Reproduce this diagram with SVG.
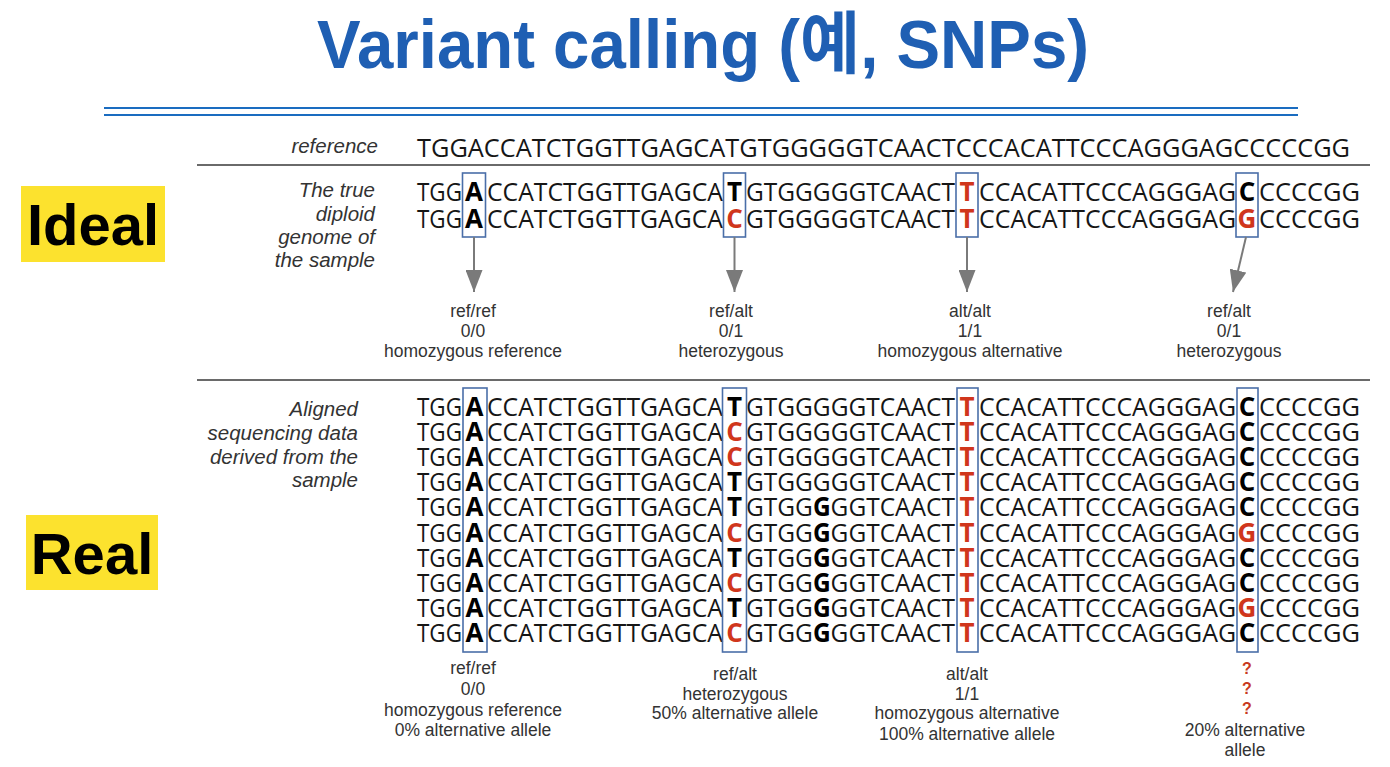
<svg xmlns="http://www.w3.org/2000/svg" width="1390" height="767" viewBox="0 0 1390 767">
<defs>
<style>
.title{font-family:"Liberation Sans","Noto Sans CJK KR",sans-serif;font-size:68px;font-weight:bold;fill:#1F5FB3}
.tag{font-family:"Liberation Sans",sans-serif;font-size:58px;font-weight:bold;fill:#000;text-anchor:middle}
.lab{font-family:"Liberation Sans",sans-serif;font-size:20.5px;font-style:italic;fill:#333;text-anchor:end}
.seq{font-family:"Open Sans",sans-serif;font-size:26px;fill:#161616}
.s{font-weight:bold;fill:#000;text-anchor:middle}
.red{fill:#D0361C}
.b{font-weight:bold;fill:#000}
.cap{font-family:"Liberation Sans",sans-serif;font-size:17.5px;fill:#333;text-anchor:middle}
.q{font-family:"Liberation Sans",sans-serif;font-size:16px;font-weight:bold;fill:#C8391D;text-anchor:middle}
.box{fill:none;stroke:#4A6EA8;stroke-width:1.6}
.sep{stroke:#6a6a6a;stroke-width:2}
.arr{stroke:#7a7a7a;stroke-width:2;fill:none}
</style>
<marker id="ah" viewBox="0 0 22 17" refX="22" refY="8.5" markerWidth="22" markerHeight="17" markerUnits="userSpaceOnUse" orient="auto">
<path d="M0,0 L22,8.5 L0,17 z" fill="#7a7a7a"/>
</marker>
</defs>
<rect width="1390" height="767" fill="#fff"/>

<g id="title">
<text class="title" x="317" y="68" textLength="772" lengthAdjust="spacingAndGlyphs">Variant calling (예, SNPs)</text>
<line x1="104" y1="108" x2="1298" y2="108" stroke="#1A6CC0" stroke-width="2"/>
<line x1="104" y1="115" x2="1298" y2="115" stroke="#1A6CC0" stroke-width="2"/>
</g>

<g id="ideal-tag">
<rect x="21" y="186" width="144" height="76" fill="#FCE22E"/>
<text class="tag" x="93" y="245">Ideal</text>
</g>
<g id="real-tag">
<rect x="26" y="515" width="132" height="75" fill="#FCE22E"/>
<text class="tag" x="92" y="574">Real</text>
</g>

<g id="reference">
<text class="lab" x="378" y="153">reference</text>
<text class="seq" x="417" y="157" textLength="933" lengthAdjust="spacingAndGlyphs">TGGACCATCTGGTTGAGCATGTGGGGGTCAACTCCCACATTCCCAGGGAGCCCCCGG</text>
<line class="sep" x1="197" y1="165" x2="1370" y2="165"/>
</g>

<g id="ideal-label">
<text class="lab" x="375" y="197">The true</text>
<text class="lab" x="375" y="221">diploid</text>
<text class="lab" x="375" y="244">genome of</text>
<text class="lab" x="375" y="267">the sample</text>
</g>

<g id="ideal-rows">
<text class="seq" y="201"><tspan x="417" textLength="45" lengthAdjust="spacingAndGlyphs">TGG</tspan><tspan class="s" x="474">A</tspan><tspan x="487" textLength="236" lengthAdjust="spacingAndGlyphs">CCATCTGGTTGAGCA</tspan><tspan class="s" x="734.5">T</tspan><tspan x="746" textLength="209" lengthAdjust="spacingAndGlyphs">GTGGGGGTCAACT</tspan><tspan class="s red" x="967">T</tspan><tspan x="979" textLength="257" lengthAdjust="spacingAndGlyphs">CCACATTCCCAGGGAG</tspan><tspan class="s" x="1247">C</tspan><tspan x="1259" textLength="101" lengthAdjust="spacingAndGlyphs">CCCCGG</tspan></text>
<text class="seq" y="227.5"><tspan x="417" textLength="45" lengthAdjust="spacingAndGlyphs">TGG</tspan><tspan class="s" x="474">A</tspan><tspan x="487" textLength="236" lengthAdjust="spacingAndGlyphs">CCATCTGGTTGAGCA</tspan><tspan class="s red" x="734.5">C</tspan><tspan x="746" textLength="209" lengthAdjust="spacingAndGlyphs">GTGGGGGTCAACT</tspan><tspan class="s red" x="967">T</tspan><tspan x="979" textLength="257" lengthAdjust="spacingAndGlyphs">CCACATTCCCAGGGAG</tspan><tspan class="s red" x="1247">G</tspan><tspan x="1259" textLength="101" lengthAdjust="spacingAndGlyphs">CCCCGG</tspan></text>
</g>

<g id="ideal-boxes">
<rect class="box" x="462.5" y="173" width="23" height="64"/>
<rect class="box" x="723.5" y="173" width="22" height="64"/>
<rect class="box" x="956" y="173" width="22" height="64"/>
<rect class="box" x="1236" y="173" width="22" height="64"/>
</g>

<g id="connectors">
<line class="arr" x1="474" y1="237" x2="474" y2="292" marker-end="url(#ah)"/>
<line class="arr" x1="734.5" y1="237" x2="734.5" y2="292" marker-end="url(#ah)"/>
<line class="arr" x1="967" y1="237" x2="967" y2="292" marker-end="url(#ah)"/>
<line class="arr" x1="1246" y1="237" x2="1233" y2="292" marker-end="url(#ah)"/>
</g>

<g id="ideal-captions">
<g><text class="cap" x="473" y="317">ref/ref</text><text class="cap" x="473" y="337">0/0</text><text class="cap" x="473" y="357">homozygous reference</text></g>
<g><text class="cap" x="731" y="317">ref/alt</text><text class="cap" x="731" y="337">0/1</text><text class="cap" x="731" y="357">heterozygous</text></g>
<g><text class="cap" x="970" y="317">alt/alt</text><text class="cap" x="970" y="337">1/1</text><text class="cap" x="970" y="357">homozygous alternative</text></g>
<g><text class="cap" x="1229" y="317">ref/alt</text><text class="cap" x="1229" y="337">0/1</text><text class="cap" x="1229" y="357">heterozygous</text></g>
</g>

<line class="sep" x1="197" y1="380" x2="1370" y2="380"/>

<g id="real-label">
<text class="lab" x="358" y="416">Aligned</text>
<text class="lab" x="358" y="440">sequencing data</text>
<text class="lab" x="358" y="464">derived from the</text>
<text class="lab" x="358" y="487">sample</text>
</g>

<g id="real-rows">
<text class="seq" y="416"><tspan x="417" textLength="45" lengthAdjust="spacingAndGlyphs">TGG</tspan><tspan class="s" x="474.5">A</tspan><tspan x="487" textLength="236" lengthAdjust="spacingAndGlyphs">CCATCTGGTTGAGCA</tspan><tspan class="s" x="734.5">T</tspan><tspan x="746" textLength="209" lengthAdjust="spacingAndGlyphs">GTGGGGGTCAACT</tspan><tspan class="s red" x="967">T</tspan><tspan x="979" textLength="257" lengthAdjust="spacingAndGlyphs">CCACATTCCCAGGGAG</tspan><tspan class="s" x="1247">C</tspan><tspan x="1259" textLength="101" lengthAdjust="spacingAndGlyphs">CCCCGG</tspan></text>
<text class="seq" y="441.1"><tspan x="417" textLength="45" lengthAdjust="spacingAndGlyphs">TGG</tspan><tspan class="s" x="474.5">A</tspan><tspan x="487" textLength="236" lengthAdjust="spacingAndGlyphs">CCATCTGGTTGAGCA</tspan><tspan class="s red" x="734.5">C</tspan><tspan x="746" textLength="209" lengthAdjust="spacingAndGlyphs">GTGGGGGTCAACT</tspan><tspan class="s red" x="967">T</tspan><tspan x="979" textLength="257" lengthAdjust="spacingAndGlyphs">CCACATTCCCAGGGAG</tspan><tspan class="s" x="1247">C</tspan><tspan x="1259" textLength="101" lengthAdjust="spacingAndGlyphs">CCCCGG</tspan></text>
<text class="seq" y="466.2"><tspan x="417" textLength="45" lengthAdjust="spacingAndGlyphs">TGG</tspan><tspan class="s" x="474.5">A</tspan><tspan x="487" textLength="236" lengthAdjust="spacingAndGlyphs">CCATCTGGTTGAGCA</tspan><tspan class="s red" x="734.5">C</tspan><tspan x="746" textLength="209" lengthAdjust="spacingAndGlyphs">GTGGGGGTCAACT</tspan><tspan class="s red" x="967">T</tspan><tspan x="979" textLength="257" lengthAdjust="spacingAndGlyphs">CCACATTCCCAGGGAG</tspan><tspan class="s" x="1247">C</tspan><tspan x="1259" textLength="101" lengthAdjust="spacingAndGlyphs">CCCCGG</tspan></text>
<text class="seq" y="491.3"><tspan x="417" textLength="45" lengthAdjust="spacingAndGlyphs">TGG</tspan><tspan class="s" x="474.5">A</tspan><tspan x="487" textLength="236" lengthAdjust="spacingAndGlyphs">CCATCTGGTTGAGCA</tspan><tspan class="s" x="734.5">T</tspan><tspan x="746" textLength="209" lengthAdjust="spacingAndGlyphs">GTGGGGGTCAACT</tspan><tspan class="s red" x="967">T</tspan><tspan x="979" textLength="257" lengthAdjust="spacingAndGlyphs">CCACATTCCCAGGGAG</tspan><tspan class="s" x="1247">C</tspan><tspan x="1259" textLength="101" lengthAdjust="spacingAndGlyphs">CCCCGG</tspan></text>
<text class="seq" y="516.4"><tspan x="417" textLength="45" lengthAdjust="spacingAndGlyphs">TGG</tspan><tspan class="s" x="474.5">A</tspan><tspan x="487" textLength="236" lengthAdjust="spacingAndGlyphs">CCATCTGGTTGAGCA</tspan><tspan class="s" x="734.5">T</tspan><tspan x="746" textLength="209" lengthAdjust="spacingAndGlyphs">GTGG<tspan class="b">G</tspan>GGTCAACT</tspan><tspan class="s red" x="967">T</tspan><tspan x="979" textLength="257" lengthAdjust="spacingAndGlyphs">CCACATTCCCAGGGAG</tspan><tspan class="s" x="1247">C</tspan><tspan x="1259" textLength="101" lengthAdjust="spacingAndGlyphs">CCCCGG</tspan></text>
<text class="seq" y="541.5"><tspan x="417" textLength="45" lengthAdjust="spacingAndGlyphs">TGG</tspan><tspan class="s" x="474.5">A</tspan><tspan x="487" textLength="236" lengthAdjust="spacingAndGlyphs">CCATCTGGTTGAGCA</tspan><tspan class="s red" x="734.5">C</tspan><tspan x="746" textLength="209" lengthAdjust="spacingAndGlyphs">GTGG<tspan class="b">G</tspan>GGTCAACT</tspan><tspan class="s red" x="967">T</tspan><tspan x="979" textLength="257" lengthAdjust="spacingAndGlyphs">CCACATTCCCAGGGAG</tspan><tspan class="s red" x="1247">G</tspan><tspan x="1259" textLength="101" lengthAdjust="spacingAndGlyphs">CCCCGG</tspan></text>
<text class="seq" y="566.6"><tspan x="417" textLength="45" lengthAdjust="spacingAndGlyphs">TGG</tspan><tspan class="s" x="474.5">A</tspan><tspan x="487" textLength="236" lengthAdjust="spacingAndGlyphs">CCATCTGGTTGAGCA</tspan><tspan class="s" x="734.5">T</tspan><tspan x="746" textLength="209" lengthAdjust="spacingAndGlyphs">GTGG<tspan class="b">G</tspan>GGTCAACT</tspan><tspan class="s red" x="967">T</tspan><tspan x="979" textLength="257" lengthAdjust="spacingAndGlyphs">CCACATTCCCAGGGAG</tspan><tspan class="s" x="1247">C</tspan><tspan x="1259" textLength="101" lengthAdjust="spacingAndGlyphs">CCCCGG</tspan></text>
<text class="seq" y="591.7"><tspan x="417" textLength="45" lengthAdjust="spacingAndGlyphs">TGG</tspan><tspan class="s" x="474.5">A</tspan><tspan x="487" textLength="236" lengthAdjust="spacingAndGlyphs">CCATCTGGTTGAGCA</tspan><tspan class="s red" x="734.5">C</tspan><tspan x="746" textLength="209" lengthAdjust="spacingAndGlyphs">GTGG<tspan class="b">G</tspan>GGTCAACT</tspan><tspan class="s red" x="967">T</tspan><tspan x="979" textLength="257" lengthAdjust="spacingAndGlyphs">CCACATTCCCAGGGAG</tspan><tspan class="s" x="1247">C</tspan><tspan x="1259" textLength="101" lengthAdjust="spacingAndGlyphs">CCCCGG</tspan></text>
<text class="seq" y="616.8"><tspan x="417" textLength="45" lengthAdjust="spacingAndGlyphs">TGG</tspan><tspan class="s" x="474.5">A</tspan><tspan x="487" textLength="236" lengthAdjust="spacingAndGlyphs">CCATCTGGTTGAGCA</tspan><tspan class="s" x="734.5">T</tspan><tspan x="746" textLength="209" lengthAdjust="spacingAndGlyphs">GTGG<tspan class="b">G</tspan>GGTCAACT</tspan><tspan class="s red" x="967">T</tspan><tspan x="979" textLength="257" lengthAdjust="spacingAndGlyphs">CCACATTCCCAGGGAG</tspan><tspan class="s red" x="1247">G</tspan><tspan x="1259" textLength="101" lengthAdjust="spacingAndGlyphs">CCCCGG</tspan></text>
<text class="seq" y="641.9"><tspan x="417" textLength="45" lengthAdjust="spacingAndGlyphs">TGG</tspan><tspan class="s" x="474.5">A</tspan><tspan x="487" textLength="236" lengthAdjust="spacingAndGlyphs">CCATCTGGTTGAGCA</tspan><tspan class="s red" x="734.5">C</tspan><tspan x="746" textLength="209" lengthAdjust="spacingAndGlyphs">GTGG<tspan class="b">G</tspan>GGTCAACT</tspan><tspan class="s red" x="967">T</tspan><tspan x="979" textLength="257" lengthAdjust="spacingAndGlyphs">CCACATTCCCAGGGAG</tspan><tspan class="s" x="1247">C</tspan><tspan x="1259" textLength="101" lengthAdjust="spacingAndGlyphs">CCCCGG</tspan></text>
</g>

<g id="real-boxes">
<rect class="box" x="463" y="388" width="24" height="264"/>
<rect class="box" x="722.5" y="388" width="24" height="264"/>
<rect class="box" x="957" y="388" width="21" height="264"/>
<rect class="box" x="1237" y="388" width="21" height="264"/>
</g>

<g id="real-captions">
<g><text class="cap" x="473" y="674">ref/ref</text><text class="cap" x="473" y="695">0/0</text><text class="cap" x="473" y="716">homozygous reference</text><text class="cap" x="473" y="736">0% alternative allele</text></g>
<g><text class="cap" x="735" y="680">ref/alt</text><text class="cap" x="735" y="700">heterozygous</text><text class="cap" x="735" y="719">50% alternative allele</text></g>
<g><text class="cap" x="967" y="680">alt/alt</text><text class="cap" x="967" y="700">1/1</text><text class="cap" x="967" y="719">homozygous alternative</text><text class="cap" x="967" y="740">100% alternative allele</text></g>
<g><text class="q" x="1247" y="674">?</text><text class="q" x="1247" y="694">?</text><text class="q" x="1247" y="714">?</text><text class="cap" x="1245" y="736">20% alternative</text><text class="cap" x="1245" y="756">allele</text></g>
</g>
</svg>
